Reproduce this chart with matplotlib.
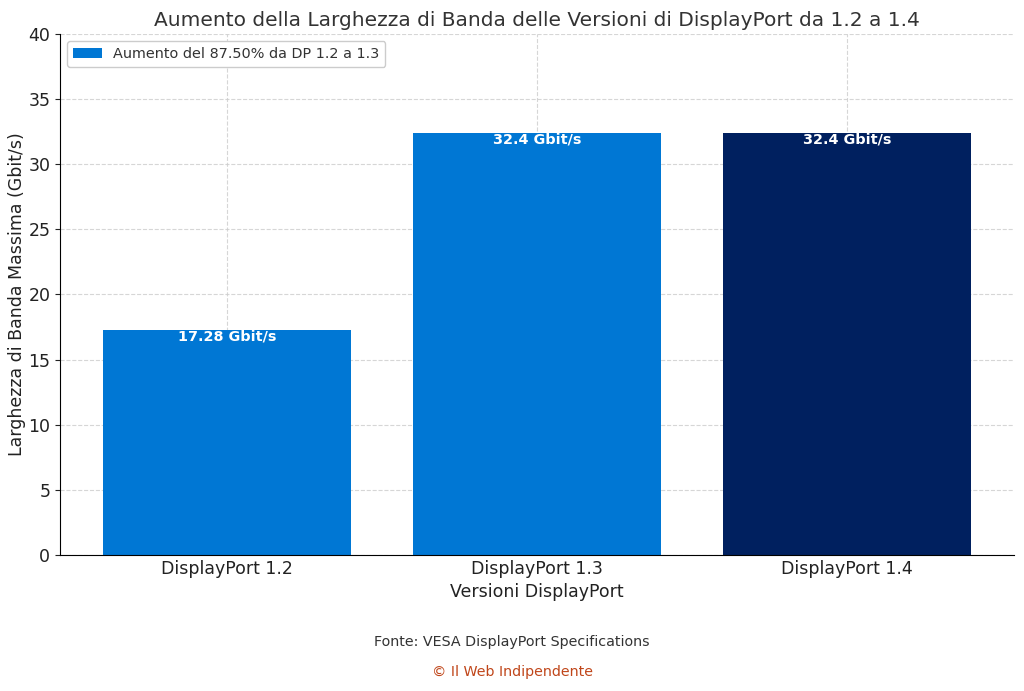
import matplotlib
matplotlib.use("Agg")
import matplotlib.pyplot as plt

versions = ["DisplayPort 1.2", "DisplayPort 1.3", "DisplayPort 1.4"]
bandwidth = [17.28, 32.4, 32.4]
labels = ["17.28 Gbit/s", "32.4 Gbit/s", "32.4 Gbit/s"]
colors = ["#0077D4", "#0077D4", "#00205F"]
legend_label = "Aumento del 87.50% da DP 1.2 a 1.3"

fig = plt.figure(figsize=(10.24, 6.91), dpi=100)
ax = fig.add_axes([0.0586, 0.197, 0.9316, 0.7538])

bars = ax.bar(versions, bandwidth, color=colors, width=0.8, zorder=2)
bars[0].set_label(legend_label)

for b, lab in zip(bars, labels):
    ax.text(b.get_x() + b.get_width() / 2, b.get_height() + 0.05, lab,
            ha="center", va="top", color="white", fontweight="bold", fontsize=10.4, zorder=3)

ax.set_ylim(0, 40)
ax.set_yticks(range(0, 41, 5))
ax.grid(True, linestyle="--", color="#cccccc", linewidth=0.8, zorder=0)
for gl in ax.get_xgridlines() + ax.get_ygridlines():
    gl.set_zorder(2.5)
    gl.set_alpha(0.8)
ax.spines["top"].set_visible(False)
ax.spines["right"].set_visible(False)
ax.tick_params(labelsize=12.5, colors="#222222")
ax.tick_params(axis="x", direction="in", pad=4)
ax.set_xlabel("Versioni DisplayPort", fontsize=12.5, color="#222222", labelpad=3)
ax.set_ylabel("Larghezza di Banda Massima (Gbit/s)", fontsize=12.5, color="#222222", labelpad=2)
ax.set_title("Aumento della Larghezza di Banda delle Versioni di DisplayPort da 1.2 a 1.4",
             fontsize=14.5, color="#333333", pad=6)
leg = ax.legend(loc="upper left", fontsize=10.4, framealpha=1, edgecolor="#cccccc")
for t in leg.get_texts():
    t.set_color("#333333")

fig.text(0.5, 1 - 642 / 691, "Fonte: VESA DisplayPort Specifications",
         ha="center", va="center", fontsize=10.3, color="#333333")
fig.text(0.5, 1 - 672 / 691, "© Il Web Indipendente",
         ha="center", va="center", fontsize=10.3, color="#C0461A")

fig.savefig("out.png", dpi=100)
